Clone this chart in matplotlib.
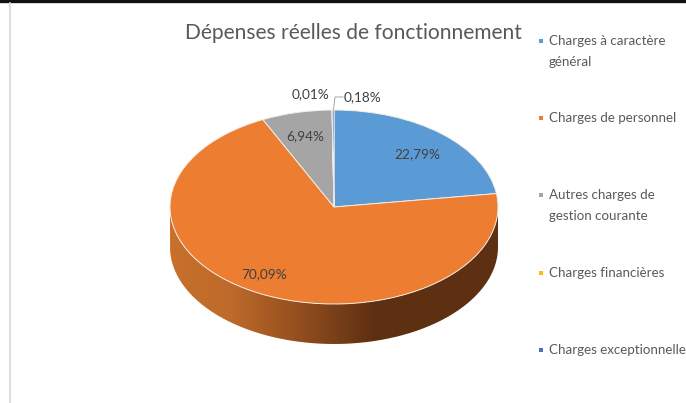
import numpy as np
import matplotlib
matplotlib.use("Agg")
import matplotlib.pyplot as plt
from matplotlib.colors import LinearSegmentedColormap
from matplotlib.patches import PathPatch
from matplotlib.path import Path

# Donnees
categories = ["Charges à caractère\ngénéral", "Charges de personnel",
              "Autres charges de\ngestion courante", "Charges financières",
              "Charges exceptionnelle"]
valeurs = [22.79, 70.09, 6.94, 0.01, 0.18]
etiquettes = ["22,79%", "70,09%", "6,94%", "0,01%", "0,18%"]
couleurs = ["#5B9BD5", "#ED7D31", "#A5A5A5", "#FFC000", "#4472C4"]

plt.rcParams["font.family"] = ["Lato", "DejaVu Sans"]
W, H = 686, 403
fig = plt.figure(figsize=(W / 100, H / 100), dpi=100)

# Fond en coordonnees pixels
bg = fig.add_axes([0, 0, 1, 1])
bg.set_xlim(0, W)
bg.set_ylim(H, 0)
bg.axis("off")
bg.plot([0, W], [1, 1], color="#111111", lw=2.4)
bg.plot([9.5, 9.5], [3, H], color="#D9D9D9", lw=1.2)

# Tranche du camembert (epaisseur) avec degrade
cx, cy, rx, ry, ep = 334, 207, 164, 97, 40
t = np.linspace(0, np.pi, 200)
haut = np.c_[cx + rx * np.cos(t), cy + ry * np.sin(t)]
bas = np.c_[cx + rx * np.cos(t[::-1]), cy + ep + ry * np.sin(t[::-1])]
contour = np.vstack([haut, bas, haut[:1]])
degrade = LinearSegmentedColormap.from_list(
    "tranche", [(0, "#C8702C"), (0.18, "#BE6A2A"), (0.38, "#96501F"),
                (0.62, "#5E3012"), (1, "#5E3012")])
img = bg.imshow(np.linspace(0, 1, 330)[None, :], cmap=degrade, aspect="auto",
                extent=[cx - rx, cx + rx, cy + ry + ep, cy], zorder=1)
img.set_clip_path(PathPatch(Path(contour), transform=bg.transData))
bg.set_xlim(0, W)
bg.set_ylim(H, 0)

# Dessus du camembert
ax = fig.add_axes([(cx - rx) / W, 1 - (cy + ry) / H, 2 * rx / W, 2 * ry / H])
ax.pie(valeurs, colors=couleurs, startangle=90, counterclock=False, radius=1,
       wedgeprops={"edgecolor": "#F4EDE6", "linewidth": 0.7, "clip_on": False})
ax.set_aspect("auto")
ax.set_xlim(-1, 1)
ax.set_ylim(-1, 1)
ax.patch.set_alpha(0)

# Textes dans un axe au dessus
top = fig.add_axes([0, 0, 1, 1])
top.set_xlim(0, W)
top.set_ylim(H, 0)
top.axis("off")
top.patch.set_alpha(0)

top.text(353, 33, "Dépenses réelles de fonctionnement", fontsize=15.1, color="#595959",
         ha="center", va="center")

pos_etiquettes = [(417, 154), (264, 274), (305, 136), (311, 94), (363, 97)]
for txt, (x, y) in zip(etiquettes, pos_etiquettes):
    top.text(x, y, txt, fontsize=9.8, color="#404040", ha="center", va="center")
top.plot([333.5, 335, 343], [110, 97, 97], color="#A6A6A6", lw=0.7)

# Legende
y_legende = [41, 118, 195, 273, 350]
for nom, coul, y in zip(categories, couleurs, y_legende):
    top.scatter([541], [y], marker="s", s=12, color=coul, linewidths=0)
    top.text(549, y - 6, nom, fontsize=9.6, color="#595959", ha="left", va="top",
             linespacing=1.85)

fig.savefig("out.png", dpi=100)
